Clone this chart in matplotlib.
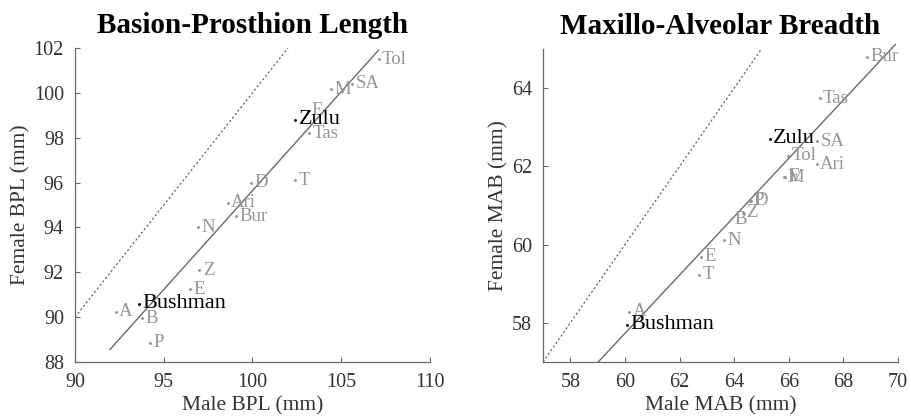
import matplotlib
matplotlib.use("Agg")
import matplotlib.pyplot as plt
import numpy as np

plt.rcParams['font.family'] = ['Liberation Serif', 'DejaVu Serif']

# ---------------- data ----------------
bpl_names = ['Tol', 'SA', 'M', 'E', 'Zulu', 'Tas', 'D', 'T', 'Ari', 'Bur',
             'N', 'Z', 'E', 'Bushman', 'A', 'B', 'P']
bpl_male = [107.1, 105.6, 104.4, 103.1, 102.4, 103.2, 99.9, 102.4, 98.6, 99.05,
            96.95, 97.0, 96.5, 93.6, 92.3, 93.75, 94.2]
bpl_female = [101.5, 100.4, 100.15, 99.2, 98.8, 98.2, 96.0, 96.1, 95.1, 94.5,
              94.0, 92.1, 91.25, 90.6, 90.25, 89.95, 88.85]
bpl_fit_slope = 0.882
bpl_fit_intercept = 7.44
bpl_fit_x = [91.97, 107.1]

mab_names = ['Bur', 'Tas', 'Zulu', 'SA', 'Tol', 'Ari', 'E', 'M', 'D', 'P',
             'Z', 'B', 'N', 'E', 'T', 'A', 'Bushman']
mab_male = [68.86, 67.13, 65.3, 67.04, 65.97, 67.02, 65.85, 65.82, 64.6, 64.57,
            64.32, 63.9, 63.63, 62.8, 62.72, 60.16, 60.06]
mab_female = [64.8, 63.74, 62.7, 62.64, 62.27, 62.06, 61.74, 61.72, 61.12, 61.12,
              60.82, 60.65, 60.11, 59.69, 59.23, 58.29, 57.95]
mab_fit_slope = 0.7456
mab_fit_intercept = 12.995
mab_fit_x = [59.02, 69.9]

highlight = ['Zulu', 'Bushman']

panels = [
    dict(title='Basion-Prosthion Length', names=bpl_names, male=bpl_male, female=bpl_female,
         slope=bpl_fit_slope, intercept=bpl_fit_intercept, fitx=bpl_fit_x,
         xlim=(90, 110), ylim=(88, 102), xticks=np.arange(90, 111, 5), yticks=np.arange(88, 103, 2),
         xlabel='Male BPL (mm)', ylabel='Female BPL (mm)',
         rect=[75 / 912, 57 / 419, 355 / 912, 314 / 419]),
    dict(title='Maxillo-Alveolar Breadth', names=mab_names, male=mab_male, female=mab_female,
         slope=mab_fit_slope, intercept=mab_fit_intercept, fitx=mab_fit_x,
         xlim=(57, 70), ylim=(57, 65), xticks=np.arange(58, 71, 2), yticks=np.arange(58, 65, 2),
         xlabel='Male MAB (mm)', ylabel='Female MAB (mm)',
         rect=[543 / 912, 57 / 419, 355 / 912, 313 / 419]),
]

fig = plt.figure(figsize=(9.12, 4.19), dpi=100)
spine_col = '#6a6a6a'
text_col = '#333333'
gray = '#959595'

for p in panels:
    ax = fig.add_axes(p['rect'])
    lo = max(p['xlim'][0], p['ylim'][0])
    hi = min(p['xlim'][1], p['ylim'][1])
    ax.plot([lo, hi], [lo, hi], linestyle=(0, (2, 2)), color='#555555', linewidth=0.8)
    fx = np.array(p['fitx'])
    ax.plot(fx, p['slope'] * fx + p['intercept'], color='#6a6a6a', linewidth=1.0, clip_on=False)
    for n, xm, yf in zip(p['names'], p['male'], p['female']):
        if n in highlight:
            c, fs = 'black', 16
        else:
            c, fs = gray, 13.5
        ax.plot([xm], [yf], marker='.', markersize=2.2, color=c, linestyle='none')
        ax.annotate(n, (xm, yf), xytext=(2.5, 0), textcoords='offset points',
                    ha='left', va='center', color=c, fontsize=fs)
    ax.set_xlim(*p['xlim'])
    ax.set_ylim(*p['ylim'])
    ax.set_xticks(p['xticks'])
    ax.set_yticks(p['yticks'])
    for s in ['top', 'right']:
        ax.spines[s].set_visible(False)
    for s in ['left', 'bottom']:
        ax.spines[s].set_color(spine_col)
        ax.spines[s].set_linewidth(0.9)
    ax.tick_params(direction='in', length=3.5, width=0.8, color=spine_col,
                   labelsize=14.5, labelcolor=text_col)
    ax.tick_params(axis='x', pad=8)
    ax.tick_params(axis='y', pad=8)
    ax.set_xlabel(p['xlabel'], fontsize=15.5, color=text_col, labelpad=3)
    ax.set_ylabel(p['ylabel'], fontsize=15.5, color=text_col, labelpad=2)
    ax.set_title(p['title'], fontsize=21, fontweight='bold', color='black', pad=11)

fig.savefig('out.png', dpi=100)
